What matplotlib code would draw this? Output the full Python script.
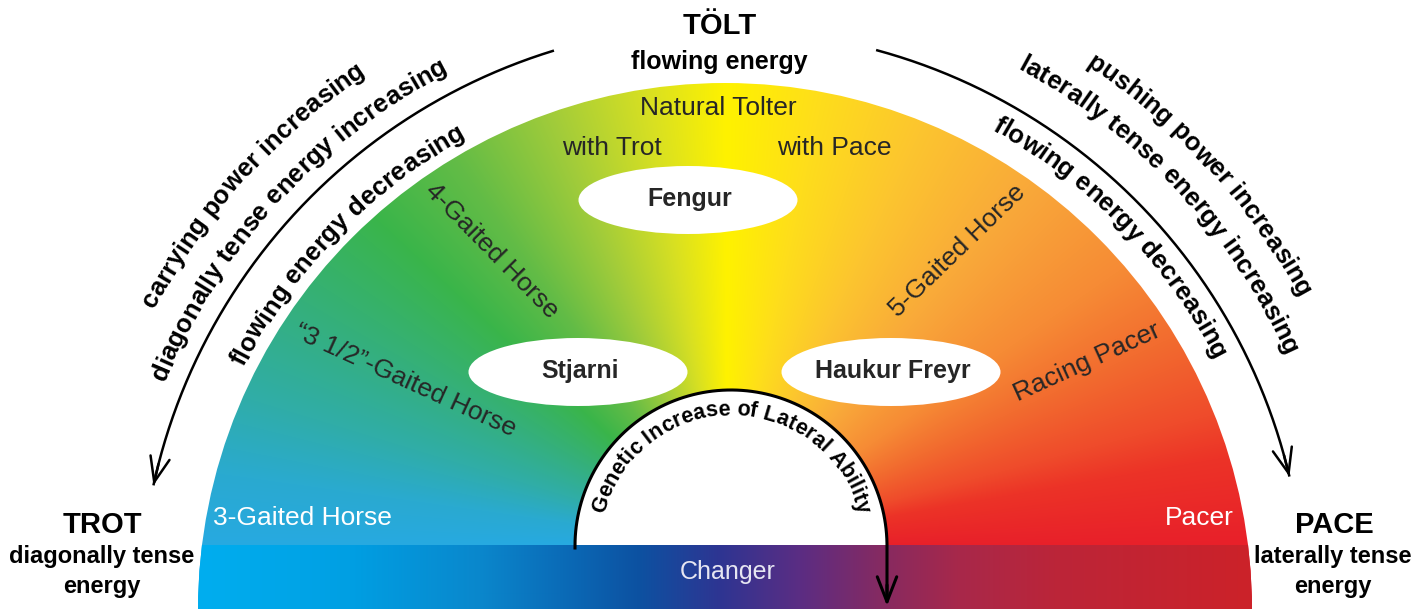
import numpy as np
import matplotlib
matplotlib.use("Agg")
import matplotlib.pyplot as plt
from matplotlib.patches import Circle, Ellipse
from matplotlib.colors import to_rgb
from matplotlib.font_manager import FontProperties

plt.rcParams['font.family'] = ['Liberation Sans', 'DejaVu Sans']

# ---- content -------------------------------------------------------------
top_title = "TÖLT"
top_sub = "flowing energy"
left_title = "TROT"
left_sub = ["diagonally tense", "energy"]
right_title = "PACE"
right_sub = ["laterally tense", "energy"]

left_arc_texts = ["carrying power increasing",
                  "diagonally tense energy increasing",
                  "flowing energy decreasing"]
right_arc_texts = ["pushing power increasing",
                   "laterally tense energy increasing",
                   "flowing energy decreasing"]
inner_arc_text = "Genetic Increase of Lateral Ability"

tolt_labels = ["Natural Tolter", "with Trot", "with Pace"]
gait_labels = ["4-Gaited Horse", "5-Gaited Horse",
               "\u201c3 1/2\u201d-Gaited Horse", "Racing Pacer"]
gait_angles = [-45.5, 44, -24.5, 24.5]
base_labels = ["3-Gaited Horse", "Pacer", "Changer"]
horse_names = ["Fengur", "Stjarni", "Haukur Freyr"]

# colour stops of the fan (angle in degrees) and of the bottom band (x)
cone_deg = [0, 10, 15, 25, 35, 50, 65, 78, 90, 100, 112, 125, 137, 150, 163, 172, 180]
cone_cols = ["#e8202a", "#ec3327", "#ef4b2b", "#f26c2f", "#f68b35", "#f9a93a",
             "#fcc52f", "#fedd1c", "#fff200", "#d8e022", "#a2cc3a", "#63bc46",
             "#3ab54a", "#35b079", "#30ada8", "#2aaad0", "#27a9e1"]
band_x = [200, 350, 480, 560, 640, 720, 800, 880, 960, 1060, 1250]
band_cols = ["#00aeef", "#009fe3", "#0a87cc", "#0a6cb8", "#0d51a1", "#2e3592",
             "#5b2d83", "#852a62", "#a8284a", "#bc2538", "#cc2229"]

# ---- figure --------------------------------------------------------------
W, H = 1415, 609
fig = plt.figure(figsize=(W / 100, H / 100), dpi=100)
ax = fig.add_axes([0, 0, 1, 1])

FAN_C, FAN_R = (725, 610), 527
CONE_C = (727, 545)
BAND_TOP = 545
INNER_C, INNER_R = (731, 546), 156
dark = "#262626"


def interp_cols(v, stops, cols):
    rgb = np.array([to_rgb(c) for c in cols])
    return np.stack([np.interp(v, stops, rgb[:, i]) for i in range(3)], -1)


yy, xx = np.mgrid[0:H, 0:W] + 0.5
ang = np.degrees(np.arctan2(CONE_C[1] - yy, xx - CONE_C[0]))
ang = np.where(ang < -90, 180, np.clip(ang, 0, 180))
im = ax.imshow(interp_cols(ang, cone_deg, cone_cols), extent=(0, W, H, 0),
               interpolation="bilinear", zorder=1)
im.set_clip_path(Circle(FAN_C, FAN_R, transform=ax.transData))

ax.add_patch(Circle(INNER_C, INNER_R, fc="white", ec="none", zorder=2))

band = interp_cols(np.arange(W) + 0.5, band_x, band_cols)[None, :, :]
bim = ax.imshow(band, extent=(0, W, H, BAND_TOP), aspect="auto",
                interpolation="bilinear", zorder=3)
bim.set_clip_path(Circle(FAN_C, FAN_R, transform=ax.transData))

ax.set_xlim(0, W)
ax.set_ylim(H, 0)
ax.set_aspect("auto")
ax.axis("off")

renderer = fig.canvas.get_renderer()


def char_width(ch, prop):
    w1 = renderer.get_text_width_height_descent("|" + ch + "|", prop, ismath=False)[0]
    w0 = renderer.get_text_width_height_descent("||", prop, ismath=False)[0]
    return w1 - w0


def arc_text(s, center, r, mid_deg, size, color="black", weight="bold"):
    prop = FontProperties(family="Liberation Sans", weight=weight, size=size)
    widths = [char_width(ch, prop) for ch in s]
    start = np.radians(mid_deg) + sum(widths) / r / 2
    pos = 0.0
    for ch, w in zip(s, widths):
        th = start - (pos + w / 2) / r
        pos += w
        ax.text(center[0] + r * np.cos(th), center[1] - r * np.sin(th), ch,
                rotation=np.degrees(th) - 90, rotation_mode="anchor",
                ha="center", va="baseline", fontproperties=prop,
                color=color, zorder=7)


def arc_arrow(center, r, a0, a1, lw):
    t = np.radians(np.linspace(a0, a1, 200))
    x = center[0] + r * np.cos(t)
    y = center[1] - r * np.sin(t)
    ax.plot(x, y, color="black", lw=lw, solid_capstyle="butt", zorder=6)
    ax.annotate("", xy=(x[-1], y[-1]), xytext=(x[-8], y[-8]),
                arrowprops=dict(arrowstyle="->,head_length=0.9,head_width=0.35",
                                lw=lw, color="black", mutation_scale=20,
                                shrinkA=0, shrinkB=0), zorder=6)


# ellipses with horse names
horse_xy = [(688, 200), (578, 372), (891, 372)]
for name, (x, y) in zip(horse_names, horse_xy):
    ax.add_patch(Ellipse((x, y), 219, 68, fc="white", ec="none", zorder=4))
    ax.text(x + 2, y - 1, name, ha="center", va="center", fontsize=18,
            fontweight="bold", color=dark, zorder=5)

# labels inside the fan
tolt_xy = [(718, 108), (612, 148), (834, 148)]
for lab, (x, y) in zip(tolt_labels, tolt_xy):
    ax.text(x, y, lab, ha="center", va="center", fontsize=19, color=dark, zorder=5)

gait_xy = [(492, 251), (957, 251), (405, 380), (1087, 362)]
for lab, (x, y), rot in zip(gait_labels, gait_xy, gait_angles):
    ax.text(x, y, lab, ha="center", va="center", fontsize=19, color=dark,
            rotation=rot, rotation_mode="anchor", zorder=5)

ax.text(213, 518, base_labels[0], ha="left", va="center", fontsize=19,
        color="white", zorder=5)
ax.text(1199, 518, base_labels[1], ha="center", va="center", fontsize=19,
        color="white", zorder=5)
ax.text(728, 572, base_labels[2], ha="center", va="center", fontsize=18,
        color="#e6e6f2", zorder=5)

# outer headings
ax.text(720, 26, top_title, ha="center", va="center", fontsize=21, fontweight="bold")
ax.text(719, 62, top_sub, ha="center", va="center", fontsize=18, fontweight="bold")
ax.text(102, 525, left_title, ha="center", va="center", fontsize=21, fontweight="bold")
for i, s in enumerate(left_sub):
    ax.text(102, 557 + 30 * i, s, ha="center", va="center", fontsize=17, fontweight="bold")
ax.text(1334, 525, right_title, ha="center", va="center", fontsize=21, fontweight="bold")
for i, s in enumerate(right_sub):
    ax.text(1333, 557 + 30 * i, s, ha="center", va="center", fontsize=17, fontweight="bold")

# curved arrows and curved text
arc_arrow(FAN_C, 585, 107, 167.7, 1.8)
arc_arrow(FAN_C, 580, 74.9, 13.3, 1.8)

left_r = [645, 605, 539]
left_mid = [138, 137.5, 136]
for s, r, m in zip(left_arc_texts, left_r, left_mid):
    arc_text(s, FAN_C, r, m, 18.5)
right_r = [653, 615, 549]
right_mid = [42.5, 43, 44]
for s, r, m in zip(right_arc_texts, right_r, right_mid):
    arc_text(s, FAN_C, r, m, 18.5)

# inner arc with arrow down into the band
t = np.radians(np.linspace(180, 0, 200))
ix = INNER_C[0] + INNER_R * np.cos(t)
iy = INNER_C[1] - INNER_R * np.sin(t)
ix = np.concatenate([[ix[0]], ix, [ix[-1]]])
iy = np.concatenate([[iy[0] + 2], iy, [598]])
ax.plot(ix, iy, color="black", lw=2.2, zorder=6)
ax.annotate("", xy=(ix[-1], 606), xytext=(ix[-1], 585),
            arrowprops=dict(arrowstyle="->,head_length=0.9,head_width=0.35",
                            lw=2.2, color="black", mutation_scale=20,
                            shrinkA=0, shrinkB=0), zorder=6)
arc_text(inner_arc_text, INNER_C, 131, 90, 15.5)

fig.savefig("out.png", dpi=100)
